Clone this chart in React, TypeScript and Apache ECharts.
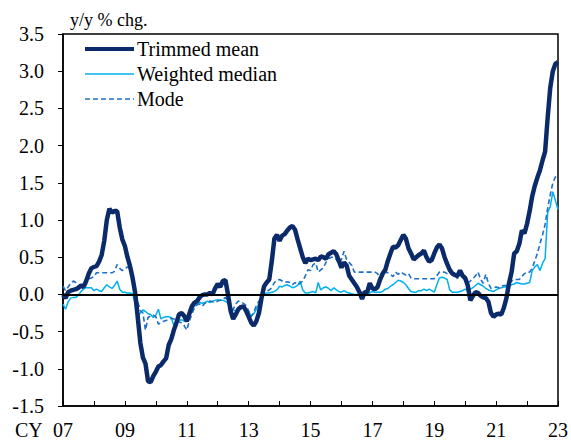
import React, { useEffect, useRef } from "react";
import * as echarts from "echarts";

// Monthly, Jan 2007 .. Jan 2023 (y/y % chg.)
const trimmedMean = [
  0.0, -0.05, 0.03, 0.05, 0.06, 0.07, 0.09, 0.12, 0.1, 0.18, 0.28, 0.35,
  0.37, 0.38, 0.44, 0.53, 0.72, 1.0, 1.15, 1.1, 1.12, 1.12, 0.9, 0.74,
  0.65, 0.5, 0.38, 0.22, 0.02, -0.31, -0.65, -0.85, -0.93, -1.17, -1.18, -1.1,
  -1.04, -0.97, -0.95, -0.9, -0.86, -0.68, -0.6, -0.48, -0.38, -0.27, -0.25, -0.29,
  -0.36, -0.26, -0.16, -0.11, -0.09, -0.04, -0.01, 0.0, 0.0, 0.02, 0.0, 0.08,
  0.14, 0.1, 0.18, 0.19, 0.0, -0.22, -0.33, -0.27, -0.2, -0.17, -0.16, -0.22,
  -0.3, -0.38, -0.42, -0.36, -0.25, -0.05, 0.11, 0.16, 0.2, 0.45, 0.75, 0.8,
  0.72, 0.79, 0.81, 0.86, 0.9, 0.92, 0.87, 0.74, 0.62, 0.5, 0.42, 0.48,
  0.46, 0.47, 0.48, 0.46, 0.51, 0.5, 0.48, 0.54, 0.56, 0.58, 0.54, 0.45,
  0.36, 0.43, 0.39, 0.25, 0.2, 0.15, 0.1, 0.03, -0.06, 0.03, 0.03, 0.15,
  0.08, 0.07, 0.1, 0.2, 0.28, 0.33, 0.45, 0.55, 0.64, 0.63, 0.66, 0.73,
  0.8, 0.75, 0.62, 0.55, 0.47, 0.5, 0.53, 0.55, 0.59, 0.5, 0.44, 0.46,
  0.55, 0.63, 0.67, 0.62, 0.5, 0.41, 0.33, 0.28, 0.26, 0.25, 0.32, 0.25,
  0.22, 0.12, -0.08, -0.02, 0.03, 0.02, -0.02, -0.04, -0.05, -0.1, -0.25, -0.3,
  -0.27, -0.26, -0.27, -0.18, -0.05, 0.15, 0.3, 0.55, 0.58, 0.68, 0.86, 0.82,
  0.95, 1.12, 1.32, 1.46, 1.57, 1.67, 1.8, 1.92, 2.38, 2.78, 3.0, 3.1,
  3.12,
];

const weightedMedian = [
  -0.13, -0.2, -0.1, -0.05, -0.04, -0.04, -0.01, 0.04, 0.07, 0.09, 0.09, 0.09,
  0.05, 0.07, 0.05, 0.04, 0.09, 0.13, 0.1, 0.08, 0.12, 0.18, 0.07, 0.03,
  0.03, 0.02, 0.02, 0.01, -0.13, -0.3, -0.25, -0.21, -0.23, -0.26, -0.27, -0.31,
  -0.28, -0.2, -0.33, -0.31, -0.3, -0.3, -0.31, -0.42, -0.37, -0.35, -0.34, -0.36,
  -0.3, -0.24, -0.2, -0.16, -0.13, -0.11, -0.12, -0.11, -0.09, -0.11, -0.09, -0.08,
  -0.07, -0.08, -0.08, -0.09, -0.12, -0.17, -0.21, -0.22, -0.2, -0.16, -0.17, -0.2,
  -0.24, -0.29, -0.26, -0.2, -0.12, -0.04, 0.0, 0.02, 0.02, 0.03, 0.04, 0.06,
  0.11, 0.1, 0.12, 0.13, 0.11, 0.09, 0.1, 0.12, 0.18, 0.06, 0.02, 0.02,
  0.03, 0.04, 0.02, 0.16, 0.06, 0.09, 0.1, 0.08, 0.05, 0.09, 0.06, 0.04,
  0.03, 0.05, 0.03, 0.02, 0.01, 0.0, 0.0, 0.0, -0.01, 0.0, 0.01, 0.02,
  0.04, 0.03, 0.03, 0.03, 0.04, 0.07, 0.08, 0.11, 0.13, 0.16, 0.19, 0.18,
  0.16, 0.13, 0.08, 0.04, 0.03, 0.03, 0.05, 0.05, 0.07, 0.05, 0.07, 0.05,
  0.03, 0.13, 0.22, 0.23, 0.22, 0.2, 0.06, 0.03, 0.03, 0.03, 0.04, 0.05,
  0.07, 0.05, 0.07, 0.09, 0.12, 0.15, 0.13, 0.11, 0.08, 0.06, 0.05, 0.04,
  0.06, 0.08, 0.09, 0.1, 0.1, 0.11, 0.13, 0.14, 0.16, 0.15, 0.14, 0.14,
  0.15, 0.16, 0.32, 0.37, 0.4, 0.32, 0.42, 0.48, 1.1, 1.18, 1.38, 1.26,
  1.14,
];

const mode = [
  0.11, 0.05, 0.1, 0.15, 0.18, 0.16, 0.1, 0.1, 0.14, 0.2, 0.21, 0.22,
  0.24, 0.29, 0.29, 0.29, 0.29, 0.29, 0.29, 0.29, 0.31, 0.4, 0.35, 0.32,
  0.34, 0.37, 0.35, 0.2, 0.05, -0.1, -0.22, -0.25, -0.48, -0.31, -0.29, -0.28,
  -0.3, -0.4, -0.38, -0.36, -0.35, -0.34, -0.32, -0.33, -0.36, -0.37, -0.38, -0.42,
  -0.48, -0.36, -0.26, -0.18, -0.14, -0.13, -0.16, -0.12, -0.1, -0.09, -0.1, -0.11,
  -0.09, -0.08, -0.07, -0.04, -0.08, -0.2, -0.2, -0.13, -0.09, -0.1, -0.12, -0.15,
  -0.22, -0.3, -0.24, -0.15, -0.09, -0.04, 0.01, 0.04, 0.06, 0.09, 0.16, 0.19,
  0.2, 0.18, 0.16, 0.17, 0.16, 0.13, 0.16, 0.13, 0.15, 0.18, 0.25, 0.33,
  0.32, 0.4, 0.42, 0.3, 0.33, 0.36, 0.43, 0.48, 0.5, 0.5, 0.47, 0.41,
  0.47, 0.58, 0.47, 0.43, 0.39, 0.3, 0.3, 0.3, 0.3, 0.3, 0.3, 0.3,
  0.3, 0.3, 0.28, 0.21, 0.26, 0.3, 0.29, 0.27, 0.24, 0.3, 0.27, 0.3,
  0.28, 0.26, 0.28, 0.22, 0.21, 0.21, 0.21, 0.21, 0.21, 0.21, 0.21, 0.21,
  0.21, 0.25, 0.3, 0.3, 0.3, 0.28, 0.3, 0.3, 0.28, 0.21, 0.3, 0.26,
  0.17, 0.15, 0.18, 0.21, 0.25, 0.3, 0.2, 0.15, 0.27, 0.15, 0.08, 0.09,
  0.1, 0.09, 0.11, 0.12, 0.12, 0.14, 0.18, 0.2, 0.2, 0.2, 0.24, 0.28,
  0.3, 0.3, 0.35, 0.45, 0.55, 0.68, 0.8, 0.94, 1.16, 1.34, 1.5, 1.58,
  1.6,
];

const startYear = 2007;
const endYear = 2023;
const seriesNames = ["Trimmed mean", "Weighted median", "Mode"];
const yTicks = { min: -1.5, max: 3.5, step: 0.5 };

const FONT = "Liberation Serif";
const COLORS = { tm: "#0B2A6A", wm: "#00B0F0", mode: "#1F6FC5" };

const toPairs = (vals: number[]) => vals.map((v, i) => [startYear + i / 12, v]);

export default function App() {
  const ref = useRef<HTMLDivElement>(null);
  useEffect(() => {
    if (!ref.current) return;
    const chart = echarts.init(ref.current, undefined, { renderer: "svg" });
    const legendStyles = [
      { stroke: COLORS.tm, lineWidth: 4 },
      { stroke: COLORS.wm, lineWidth: 1.5 },
      { stroke: COLORS.mode, lineWidth: 1.6, lineDash: [5, 3] },
    ];
    const legendGraphics: any[] = [];
    seriesNames.forEach((name, k) => {
      const cy = 49 + k * 25;
      legendGraphics.push({
        type: "line",
        shape: { x1: 85, y1: cy, x2: 134, y2: cy },
        style: legendStyles[k],
      });
      legendGraphics.push({
        type: "text",
        x: 137,
        y: cy,
        style: {
          text: name,
          fontFamily: FONT,
          fontSize: 20,
          fill: "#000",
          textVerticalAlign: "middle",
        },
      });
    });
    chart.setOption({
      animation: false,
      backgroundColor: "#fff",
      textStyle: { fontFamily: FONT },
      grid: {
        left: 63,
        right: 9,
        top: 34,
        bottom: 34,
        show: true,
        borderColor: "#000",
        borderWidth: 1.5,
        backgroundColor: "transparent",
      },
      graphic: [
        {
          type: "text",
          x: 70,
          y: 20,
          style: {
            text: "y/y % chg.",
            fontFamily: FONT,
            fontSize: 18,
            fill: "#000",
            textVerticalAlign: "middle",
          },
        },
        {
          type: "text",
          x: 15,
          y: 430,
          style: {
            text: "CY",
            fontFamily: FONT,
            fontSize: 20,
            fill: "#000",
            textVerticalAlign: "middle",
          },
        },
        ...legendGraphics,
      ],
      xAxis: {
        type: "value",
        min: startYear,
        max: endYear,
        interval: 1,
        axisLine: { onZero: false, lineStyle: { color: "#000", width: 1.5 } },
        axisTick: { inside: true, length: 5, lineStyle: { color: "#000", width: 1 } },
        splitLine: { show: false },
        axisLabel: {
          margin: 14,
          fontFamily: FONT,
          fontSize: 20,
          color: "#000",
          formatter: (v: number) => {
            const y = Math.round(v);
            return y % 2 === 1 ? String(y % 100).padStart(2, "0") : "";
          },
        },
      },
      yAxis: {
        type: "value",
        min: yTicks.min,
        max: yTicks.max,
        interval: yTicks.step,
        axisLine: { show: true, lineStyle: { color: "#000", width: 1.5 } },
        axisTick: { show: true, inside: false, length: 5, lineStyle: { color: "#000", width: 1 } },
        splitLine: { show: false },
        axisLabel: {
          margin: 19,
          fontFamily: FONT,
          fontSize: 20,
          color: "#000",
          formatter: (v: number) => v.toFixed(1),
        },
      },
      series: [
        {
          name: "Weighted median",
          type: "line",
          data: toPairs(weightedMedian),
          showSymbol: false,
          symbol: "none",
          lineStyle: { color: COLORS.wm, width: 1.5 },
          itemStyle: { color: COLORS.wm },
          z: 2,
          markLine: {
            silent: true,
            symbol: ["none", "none"],
            label: { show: false },
            lineStyle: { color: "#000", width: 2, type: "solid" },
            data: [{ yAxis: 0 }],
          },
        },
        {
          name: "Mode",
          type: "line",
          data: toPairs(mode),
          showSymbol: false,
          symbol: "none",
          lineStyle: { color: COLORS.mode, width: 1.6, type: [5, 3] },
          itemStyle: { color: COLORS.mode },
          z: 3,
        },
        {
          name: "Trimmed mean",
          type: "line",
          data: toPairs(trimmedMean),
          showSymbol: false,
          symbol: "none",
          lineStyle: { color: COLORS.tm, width: 4.5 },
          itemStyle: { color: COLORS.tm },
          z: 4,
        },
      ],
    });
    return () => chart.dispose();
  }, []);
  return (
    <div
      ref={ref}
      style={{ position: "fixed", left: 0, top: 0, width: 571, height: 440 }}
    />
  );
}
